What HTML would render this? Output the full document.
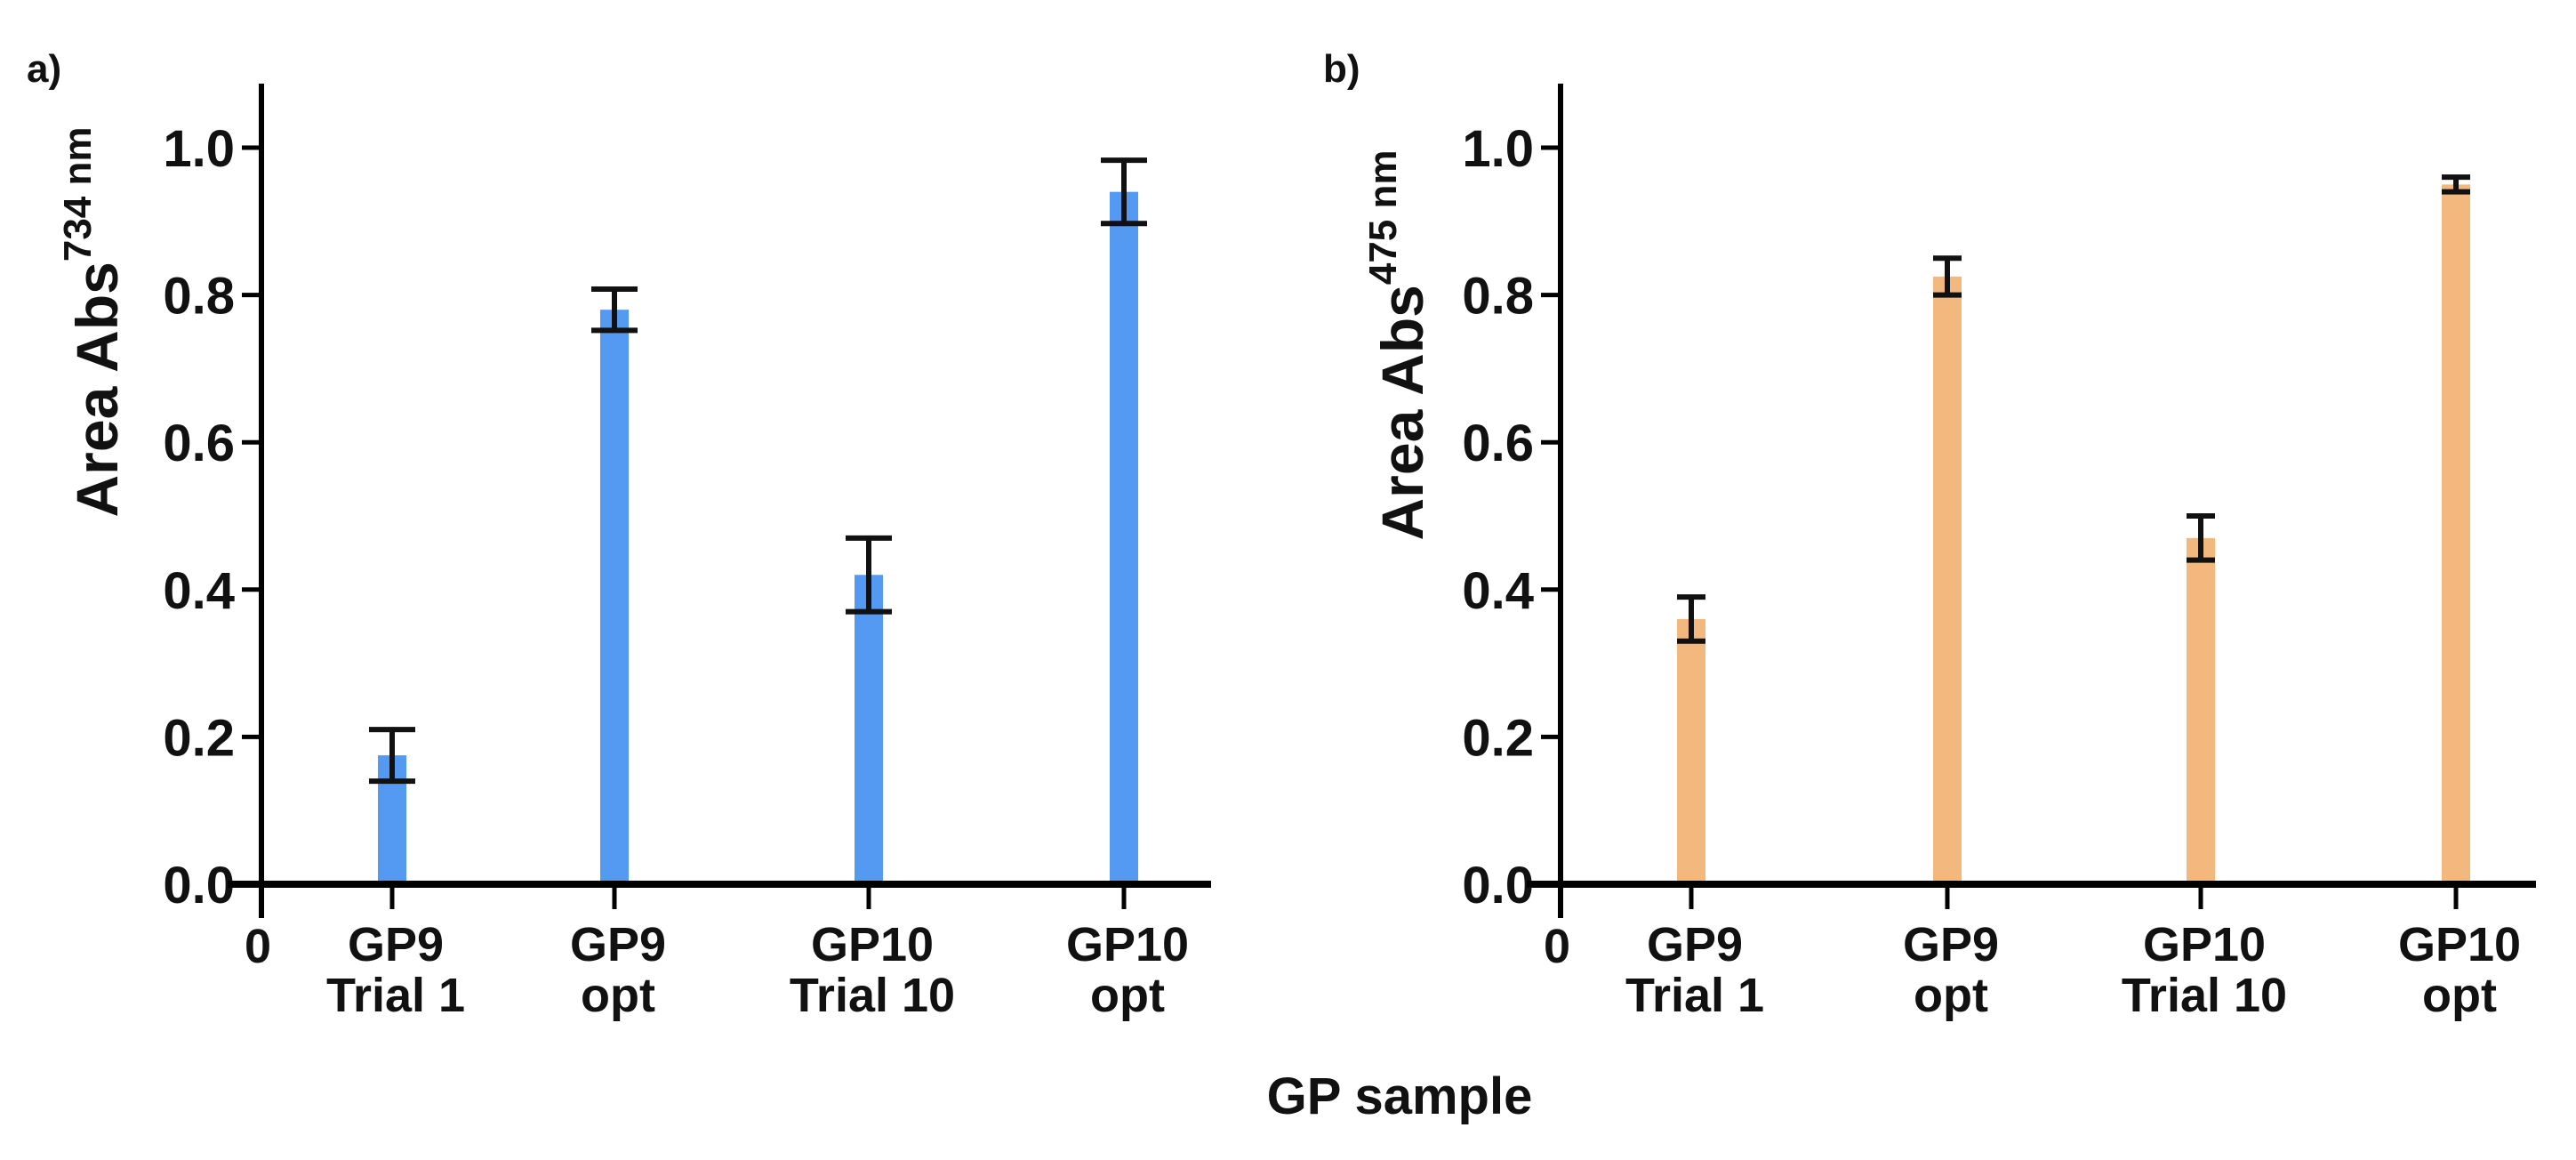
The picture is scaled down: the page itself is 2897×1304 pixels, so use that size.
<!DOCTYPE html>
<html><head><meta charset="utf-8"><style>
html,body{margin:0;padding:0;background:#fff}
svg{display:block}
text{font-family:"Liberation Sans",Arial,sans-serif;font-weight:bold;fill:#111}
</style></head><body>
<svg id="fig" width="2897" height="1304" viewBox="0 0 2897 1304" xmlns="http://www.w3.org/2000/svg">
<text x="30" y="92" font-size="44">a)</text>
<text x="1488" y="92" font-size="44">b)</text>
<text x="1574" y="1252" font-size="58" text-anchor="middle">GP sample</text>
<g id="pa"></g>
<g id="pb"></g>
</svg>
<script>
const categories = [["GP9","Trial 1"],["GP9","opt"],["GP10","Trial 10"],["GP10","opt"]];
const valuesA = [0.175, 0.78, 0.42, 0.94];
const errA = [0.035, 0.028, 0.05, 0.043];
const valuesB = [0.36, 0.825, 0.47, 0.95];
const errB = [0.03, 0.025, 0.03, 0.01];
const yTicks = [0.0, 0.2, 0.4, 0.6, 0.8, 1.0];
const yTickLabels = ["0.0","0.2","0.4","0.6","0.8","1.0"];

const NS = "http://www.w3.org/2000/svg";
function mk(parent, tag, attrs){const e=document.createElementNS(NS,tag);for(const k in attrs)e.setAttribute(k,attrs[k]);parent.appendChild(e);return e;}

function panel(g, cfg, vals, errs){
  const y = v => cfg.y0 - v/1.0*(cfg.y0-cfg.y1);
  const x = i => cfg.xs[i];
  let e = mk(g,'line',{x1:cfg.ax,y1:cfg.top,x2:cfg.ax,y2:cfg.y0+38,stroke:'#000','stroke-width':6});
  
  
  yTicks.forEach((t,i)=>{
    const tk = mk(g,'line',{x1:cfg.ax-22,y1:y(t),x2:cfg.ax,y2:y(t),stroke:'#000','stroke-width':5});
    
    
    const tl = mk(g,'text',{x:cfg.ax-30,y:y(t)+21,'font-size':58,'text-anchor':'end'});
    tl.textContent = yTickLabels[i];
    
    
  });
  vals.forEach((v,i)=>{
    const b = mk(g,'rect',{x:x(i)-16,y:y(v),width:32,height:cfg.y0-y(v),fill:cfg.color});
    
    
    const lo=y(v-errs[i]), hi=y(v+errs[i]);
    const eb = mk(g,'path',{d:`M${x(i)} ${lo}V${hi}M${x(i)-cfg.cap} ${hi}H${x(i)+cfg.cap}M${x(i)-cfg.cap} ${lo}H${x(i)+cfg.cap}`,stroke:'#111','stroke-width':6,fill:'none'});
    
    
  });
  e = mk(g,'line',{x1:cfg.ax-38,y1:cfg.y0,x2:cfg.xend,y2:cfg.y0,stroke:'#000','stroke-width':8});
  
  
  const z = mk(g,'text',{x:cfg.ax-4,y:1082,'font-size':54,'text-anchor':'middle'});
  z.textContent='0';
  
  
  categories.forEach((c,i)=>{
    const tk = mk(g,'line',{x1:x(i),y1:cfg.y0,x2:x(i),y2:cfg.y0+28,stroke:'#000','stroke-width':5});
    
    
    const t = mk(g,'text',{x:x(i)+4,y:1080,'font-size':54,'text-anchor':'middle'});
    t.textContent=c[0];
    
    
    const t2 = mk(g,'text',{x:x(i)+4,y:1137,'font-size':54,'text-anchor':'middle'});
    t2.textContent=c[1];
    
    
  });
  const yt = mk(g,'text',{transform:`translate(${cfg.tx},${cfg.ty}) rotate(-90)`,'font-size':66,'text-anchor':'middle'});
  
  
  yt.innerHTML = 'Area Abs<tspan dy="-30" font-size="44">'+cfg.sup+'</tspan>';
}
panel(document.getElementById('pa'),{ax:294,top:94,y0:994,y1:166,xend:1362,xs:[441,691,977,1264],color:'#559AF2',cap:26,tx:132,ty:362,sup:'734 nm'},valuesA,errA);
panel(document.getElementById('pb'),{ax:1755,top:94,y0:994,y1:166,xend:2852,xs:[1902,2190,2475,2762],color:'#F2B87E',cap:16,tx:1600,ty:388,sup:'475 nm'},valuesB,errB);
</script>
</body></html>
